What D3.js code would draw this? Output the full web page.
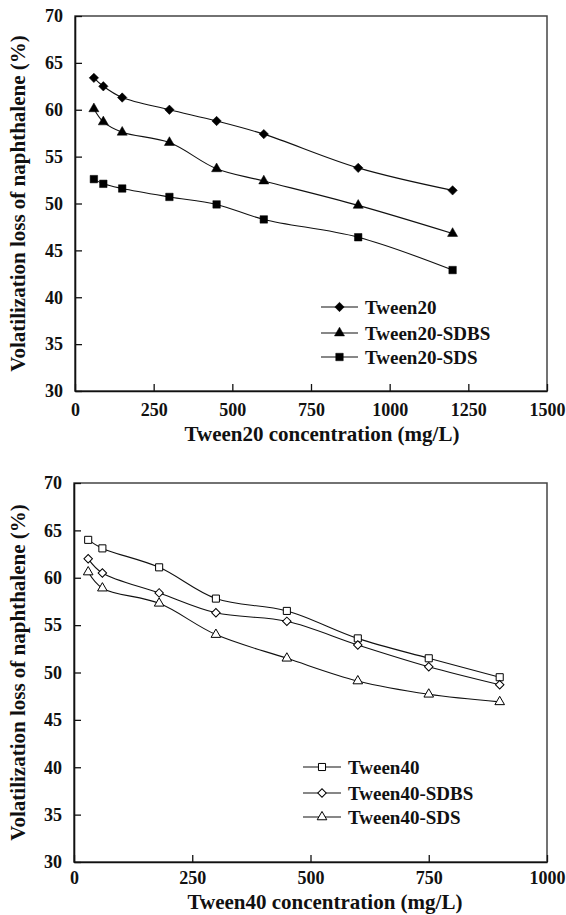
<!DOCTYPE html>
<html>
<head>
<meta charset="utf-8">
<script src="https://cdn.jsdelivr.net/npm/d3@7"></script>
<style>
  body { margin: 0; background: #fff; }
</style>
</head>
<body>
<script>
var W = 566, H = 915; // size of the svg
var FONT = "'Liberation Serif', 'Times New Roman', serif";

// top panel data (Tween20)
var conc20 = [60, 90, 150, 300, 450, 600, 900, 1200];
var tween20 = [63.4, 62.5, 61.3, 60.0, 58.8, 57.4, 53.8, 51.4];
var tween20SDBS = [60.1, 58.7, 57.6, 56.5, 53.7, 52.4, 49.8, 46.8];
var tween20SDS = [52.6, 52.1, 51.6, 50.7, 49.9, 48.3, 46.4, 42.9];
var ticks20 = [0, 250, 500, 750, 1000, 1250, 1500];

// bottom panel data (Tween40)
var conc40 = [30, 60, 180, 300, 450, 600, 750, 900];
var tween40 = [64.0, 63.1, 61.1, 57.8, 56.5, 53.6, 51.5, 49.5];
var tween40SDBS = [62.0, 60.5, 58.4, 56.3, 55.4, 52.9, 50.6, 48.7];
var tween40SDS = [60.6, 58.9, 57.3, 54.0, 51.5, 49.1, 47.7, 46.9];
var ticks40 = [0, 250, 500, 750, 1000];

var yTicks = [30, 35, 40, 45, 50, 55, 60, 65, 70];

var svg = d3.select("body").append("svg").attr("width", W).attr("height", H);

// bold serif text everywhere
function txt(sel, size) {
  return sel.style("font-family", FONT).style("font-weight", "bold")
    .style("font-size", size + "px").attr("fill", "#111");
}

// marker shapes
function marker(g, type, open) {
  var s;
  if (type == "diamond") s = d3.symbol().type(d3.symbolSquare).size(open ? 36 : 44);
  else if (type == "triangle") s = d3.symbol().type(d3.symbolTriangle).size(open ? 40 : 44);
  else s = d3.symbol().type(d3.symbolSquare).size(open ? 50 : 56);
  return g.append("path").attr("d", s())
    .attr("fill", open ? "#fff" : "#000")
    .attr("stroke", "#000").attr("stroke-width", open ? 1 : 0.5);
}

function panel(cfg) {
  var x = d3.scaleLinear().domain([0, cfg.xmax]).range([cfg.left, cfg.right]);
  var y = d3.scaleLinear().domain([30, 70]).range([cfg.bottom, cfg.top]);
  var g = svg.append("g");

  // frame
  g.append("rect").attr("x", cfg.left).attr("y", cfg.top)
    .attr("width", cfg.right - cfg.left).attr("height", cfg.bottom - cfg.top)
    .attr("fill", "none").attr("stroke", "#444").attr("stroke-width", 1.5);

  // axes with inward ticks
  var xa = g.append("g").attr("transform", "translate(0," + cfg.bottom + ")")
    .call(d3.axisBottom(x).tickValues(cfg.xticks).tickFormat(d3.format("d"))
      .tickSizeInner(-7).tickSizeOuter(0));
  var ya = g.append("g").attr("transform", "translate(" + cfg.left + ",0)")
    .call(d3.axisLeft(y).tickValues(yTicks).tickSizeInner(-7).tickSizeOuter(0).tickPadding(12));
  [xa, ya].forEach(function (a) {
    a.select(".domain").attr("stroke", "#111").attr("stroke-width", 1.6);
    a.selectAll(".tick line").attr("stroke", "#111").attr("stroke-width", 1.3);
    txt(a.selectAll(".tick text"), 18);
  });
  xa.selectAll(".tick text").attr("y", cfg.tickDy).attr("dy", "0.35em");

  // titles
  txt(g.append("text"), 21).attr("x", cfg.titleX).attr("y", cfg.bottom + cfg.titleDy)
    .attr("text-anchor", "middle").text(cfg.xtitle);
  txt(g.append("text"), 21)
    .attr("transform", "translate(25," + ((cfg.top + cfg.bottom) / 2) + ") rotate(-90)")
    .attr("text-anchor", "middle")
    .text("Volatilization loss of naphthalene (%)");

  var line = d3.line().x(function (d) { return x(d[0]); }).y(function (d) { return y(d[1]); })
    .curve(d3.curveCatmullRom.alpha(0.5));

  cfg.series.forEach(function (s, k) {
    var pts = cfg.xs.map(function (v, i) { return [v, s.values[i]]; });
    g.append("path").datum(pts).attr("d", line)
      .attr("fill", "none").attr("stroke", "#111").attr("stroke-width", 1.1);
    pts.forEach(function (p) {
      var m = g.append("g").attr("transform", "translate(" + x(p[0]) + "," + y(p[1]) + ")" + (s.shape == "diamond" ? " rotate(45)" : ""));
      marker(m, s.shape, cfg.open);
    });

    // legend row
    var ly = cfg.legY[k];
    g.append("line").attr("x1", cfg.legX[0]).attr("x2", cfg.legX[1]).attr("y1", ly).attr("y2", ly)
      .attr("stroke", "#111").attr("stroke-width", 1.1);
    var lm = g.append("g").attr("transform", "translate(" + ((cfg.legX[0] + cfg.legX[1]) / 2) + "," + ly + ")" + (s.shape == "diamond" ? " rotate(45)" : ""));
    marker(lm, s.shape, cfg.open);
    txt(g.append("text"), 19).attr("x", cfg.legX[1] + 7).attr("y", ly).attr("dy", "0.35em")
      .text(s.name);
  });
}

panel({
  left: 75, right: 547, top: 16, bottom: 391, xmax: 1500, xticks: ticks20,
  xtitle: "Tween20 concentration (mg/L)", xs: conc20, open: false,
  tickDy: 19, titleDy: 50, titleX: 322,
  legX: [321, 358], legY: [307, 333, 357],
  series: [
    { name: "Tween20", values: tween20, shape: "diamond" },
    { name: "Tween20-SDBS", values: tween20SDBS, shape: "triangle" },
    { name: "Tween20-SDS", values: tween20SDS, shape: "square" }
  ]
});

panel({
  left: 74, right: 547, top: 483, bottom: 862, xmax: 1000, xticks: ticks40,
  xtitle: "Tween40 concentration (mg/L)", xs: conc40, open: true,
  tickDy: 16, titleDy: 47, titleX: 325,
  legX: [303, 341], legY: [767, 793, 817],
  series: [
    { name: "Tween40", values: tween40, shape: "square" },
    { name: "Tween40-SDBS", values: tween40SDBS, shape: "diamond" },
    { name: "Tween40-SDS", values: tween40SDS, shape: "triangle" }
  ]
});
</script>
</body>
</html>
